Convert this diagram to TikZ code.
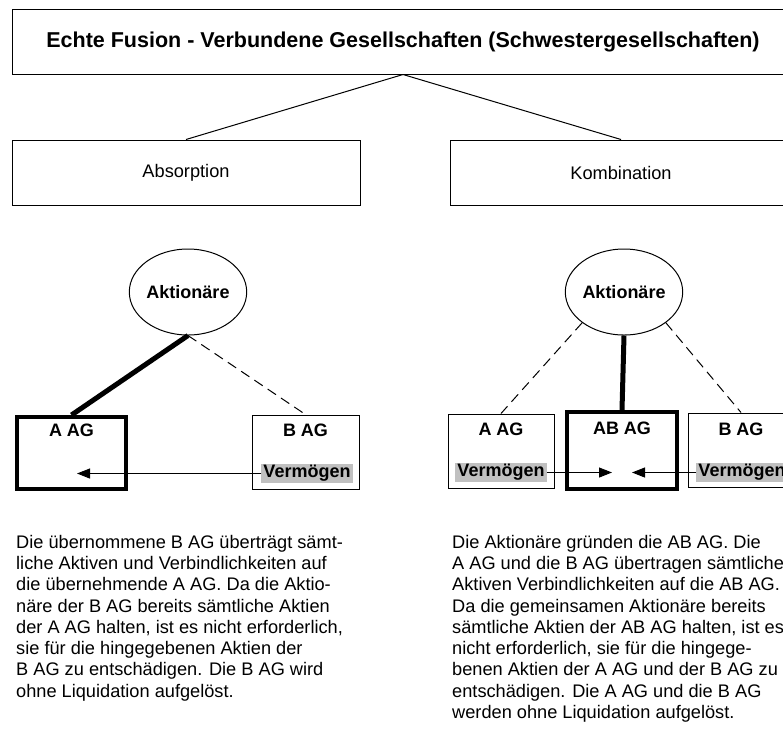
\documentclass[tikz,border=0pt]{standalone}
\usepackage{fontspec}
\setmainfont{Liberation Sans}
\usetikzlibrary{shapes.geometric,arrows.meta}
\definecolor{vgray}{RGB}{192,192,192}
\begin{document}
\begin{tikzpicture}[x=1pt,y=-1pt,
  box/.style={draw,line width=1pt,inner sep=0pt,rectangle},
  thickbox/.style={draw,line width=4pt,inner sep=0pt,rectangle},
  lbl/.style={font=\fontsize{18}{21}\selectfont\bfseries,inner sep=0pt},
  verm/.style={fill=vgray,font=\fontsize{18}{21}\selectfont\bfseries,inner xsep=2pt,inner ysep=1pt},
  aell/.style={draw,ellipse,line width=1pt,inner sep=0pt,minimum width=116pt,minimum height=86pt,font=\fontsize{18}{21}\selectfont\bfseries},
  thin/.style={line width=1pt},
  thickline/.style={line width=5pt},
  dashline/.style={line width=1pt,dash pattern=on 10pt off 6pt},
  arr/.style={line width=1pt,-{Triangle[length=13pt,width=10pt]}},
  para/.style={anchor=north west,align=left,inner sep=0pt,font=\fontsize{18.2}{21.25}\selectfont}
]
\useasboundingbox[fill=white] (0,0) rectangle (783,729);

% top
\node[box,minimum width=782pt,minimum height=65pt,font=\fontsize{21.5}{25}\selectfont\bfseries] (top) at (403,41.5) {Echte Fusion - Verbundene Gesellschaften (Schwestergesellschaften)};
\node[box,minimum width=348pt,minimum height=65pt,font=\fontsize{18.2}{21}\selectfont] (abs) at (186,172.5) {Absorption};
\node[box,minimum width=342pt,minimum height=65pt,font=\fontsize{18.2}{21}\selectfont] (kom) at (621,172.5) {Kombination};
\draw[thin] (top.south) -- (abs.north);
\draw[thin] (top.south) -- (kom.north);

% left: absorption
\node[aell] (lell) at (188,292) {Aktionäre};
\node[thickbox,minimum width=109pt,minimum height=72pt] (laag) at (71.5,453) {};
\node[box,minimum width=107pt,minimum height=74pt] (lbag) at (305.5,452) {};
\node[lbl] (laagt) at (71.5,430) {A AG};
\node[lbl] (lbagt) at (305.5,430) {B AG};
\node[verm] (lverm) at (307,473.5) {Vermögen};
\coordinate (ltip) at (77,473.5);
\draw[thickline] (lell.south) -- (laag.north);
\draw[dashline] (lell.south) -- (lbag.north);
\draw[arr] (lverm.west) -- (ltip);

% right: kombination
\node[aell] (rell) at (624,292) {Aktionäre};
\node[box,minimum width=106pt,minimum height=74pt] (raag) at (501,451) {};
\node[thickbox,minimum width=110pt,minimum height=77pt] (rabag) at (622,450.5) {};
\node[box,minimum width=106pt,minimum height=74pt] (rbag) at (741,450) {};
\node[lbl] (raagt) at (501,429) {A AG};
\node[lbl] (rabagt) at (622,428) {AB AG};
\node[lbl] (rbagt) at (741,429) {B AG};
\node[verm] (rlverm) at (501,472.5) {Vermögen};
\node[verm] (rrverm) at (742,472.5) {Vermögen};
\coordinate (rtip1) at (612,472.5);
\coordinate (rtip2) at (632,472.5);
\draw[dashline] (rell.south west) -- (raag.north);
\draw[dashline] (rell.south east) -- (rbag.north);
\draw[thickline] (rell.south) -- (rabag.north);
\draw[arr] (rlverm.east) -- (rtip1);
\draw[arr] (rrverm.west) -- (rtip2);

% texts
\node[para] (ltext) at (16,535) {Die übernommene B AG überträgt sämt-\\
liche Aktiven und Verbindlichkeiten auf\\
die übernehmende A AG. Da die Aktio-\\
näre der B AG bereits sämtliche Aktien\\
der A AG halten, ist es nicht erforderlich,\\
sie für die hingegebenen Aktien der\\
B AG zu entschädigen. Die B AG wird\\
ohne Liquidation aufgelöst.};
\node[para] (rtext) at (452,535) {Die Aktionäre gründen die AB AG. Die\\
A AG und die B AG übertragen sämtliche\\
Aktiven Verbindlichkeiten auf die AB AG.\\
Da die gemeinsamen Aktionäre bereits\\
sämtliche Aktien der AB AG halten, ist es\\
nicht erforderlich, sie für die hingege-\\
benen Aktien der A AG und der B AG zu\\
entschädigen. Die A AG und die B AG\\
werden ohne Liquidation aufgelöst.};
\end{tikzpicture}
\end{document}
